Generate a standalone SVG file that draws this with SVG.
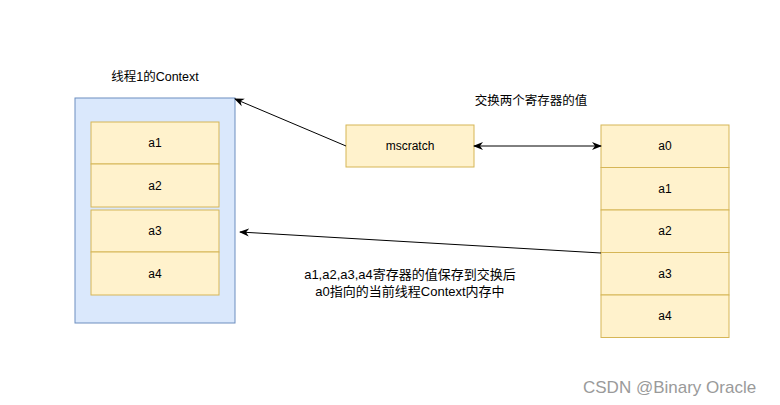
<svg xmlns="http://www.w3.org/2000/svg" width="780" height="405" viewBox="0 0 780 405">
<style>
text{font-family:"Liberation Sans","Noto Sans CJK SC",Arial,sans-serif;font-size:12px;fill:#000;}
.c{text-anchor:middle;}
.cell{fill:#fff2cc;stroke:#d6b656;stroke-width:1;}
.ln{stroke:#000;stroke-width:1;fill:none;}
</style>
<defs>
<marker id="ah" viewBox="0 0 10 10" refX="9" refY="5" markerWidth="10" markerHeight="10" markerUnits="userSpaceOnUse" orient="auto-start-reverse">
<path d="M0,1 L10,5 L0,9 L3,5 Z" fill="#000"/>
</marker>
</defs>
<rect width="780" height="405" fill="#fff"/>
<g id="context">
<rect x="75" y="98" width="160" height="225" fill="#dae8fc" stroke="#6c8ebf"/>
<text class="c" x="155" y="81" style="font-size:12.5px">线程1的Context</text>
</g>
<g id="ctx-a1"><rect class="cell" x="91" y="122" width="128" height="42"/><text class="c" x="155" y="147">a1</text></g>
<g id="ctx-a2"><rect class="cell" x="91" y="164" width="128" height="43"/><text class="c" x="155" y="190">a2</text></g>
<g id="ctx-a3"><rect class="cell" x="91" y="210" width="128" height="42"/><text class="c" x="155" y="235">a3</text></g>
<g id="ctx-a4"><rect class="cell" x="91" y="252" width="128" height="43"/><text class="c" x="155" y="278">a4</text></g>
<g id="mscratch"><rect class="cell" x="346" y="125" width="128" height="42"/><text class="c" x="410" y="150">mscratch</text></g>
<g id="reg-a0"><rect class="cell" x="601" y="125" width="128" height="42.5"/><text class="c" x="665" y="150">a0</text></g>
<g id="reg-a1"><rect class="cell" x="601" y="167.5" width="128" height="42.5"/><text class="c" x="665" y="193">a1</text></g>
<g id="reg-a2"><rect class="cell" x="601" y="210" width="128" height="42.5"/><text class="c" x="665" y="235">a2</text></g>
<g id="reg-a3"><rect class="cell" x="601" y="252.5" width="128" height="42.5"/><text class="c" x="665" y="278">a3</text></g>
<g id="reg-a4"><rect class="cell" x="601" y="295" width="128" height="42.5"/><text class="c" x="665" y="320">a4</text></g>
<g id="connectors">
<line class="ln" x1="346" y1="146" x2="235" y2="99" marker-end="url(#ah)"/>
<line class="ln" x1="474" y1="146" x2="601" y2="146" marker-start="url(#ah)" marker-end="url(#ah)"/>
<line class="ln" x1="601" y1="253" x2="240" y2="232" marker-end="url(#ah)"/>
</g>
<text class="c" x="531" y="105" style="font-size:12.5px">交换两个寄存器的值</text>
<text class="c" x="410" y="279" style="font-size:13px">a1,a2,a3,a4寄存器的值保存到交换后</text>
<text class="c" x="410" y="296" style="font-size:13px">a0指向的当前线程Context内存中</text>
<text x="583" y="393" style="font-size:17px;fill:#9a9a9a">CSDN @Binary Oracle</text>
</svg>
